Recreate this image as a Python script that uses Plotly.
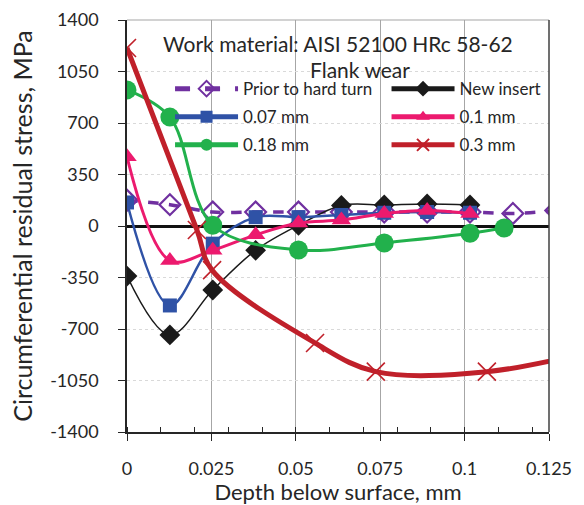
import plotly.graph_objects as go

# ---- data ----
prior_x = [0, 0.0127, 0.0254, 0.0381, 0.0508, 0.0635, 0.0762, 0.0889, 0.1016, 0.1143, 0.127]
prior_y = [175, 145, 95, 95, 95, 95, 95, 95, 95, 85, 105]

new_x = [0, 0.0127, 0.0254, 0.0381, 0.0508, 0.0635, 0.0762, 0.0889, 0.1016]
new_y = [-340, -740, -435, -165, 5, 140, 143, 150, 143]

w007_x = [0, 0.0127, 0.0254, 0.0381, 0.0508, 0.0635, 0.0762, 0.0889, 0.1016]
w007_y = [160, -540, -120, 60, 60, 75, 90, 95, 90]

w01_x = [0, 0.0127, 0.0254, 0.0381, 0.0508, 0.0635, 0.0762, 0.0889, 0.1016]
w01_y = [470, -235, -165, -60, 20, 40, 85, 105, 85]

w018_x = [0, 0.0127, 0.0254, 0.0508, 0.0762, 0.1016, 0.1117]
w018_y = [925, 740, 5, -163, -115, -50, -14]

w03_x = [0, 0.0207, 0.0252, 0.0557, 0.0737, 0.1066, 0.14]
w03_y = [1210, -27, -300, -795, -990, -990, -840]

x_ticks = [0, 0.025, 0.05, 0.075, 0.1, 0.125]
x_ticklabels = ["0", "0.025", "0.05", "0.075", "0.1", "0.125"]
y_ticks = [1400, 1050, 700, 350, 0, -350, -700, -1050, -1400]
y_ticklabels = ["1400", "1050", "700", "350", "0", "-350", "-700", "-1050", "-1400"]

FONT = "Lato, Open Sans, sans-serif"
TXT = "#262626"

fig = go.Figure()

fig.add_trace(go.Scatter(
    x=prior_x, y=prior_y, name="Prior to hard turn", mode="lines+markers",
    line=dict(color="#7030A0", width=3.5, dash="dash", shape="spline"),
    marker=dict(symbol="diamond-open", size=16, color="#7030A0", line=dict(width=2.2, color="#7030A0")),
    legend="legend", legendgroup="a"))
fig.add_trace(go.Scatter(
    x=new_x, y=new_y, name="New insert", mode="lines+markers",
    line=dict(color="#1a1a1a", width=1.5, shape="spline"),
    marker=dict(symbol="diamond", size=16, color="#1a1a1a"),
    legend="legend2", legendgroup="b"))
fig.add_trace(go.Scatter(
    x=w007_x, y=w007_y, name="0.07 mm", mode="lines+markers",
    line=dict(color="#2F52A6", width=2.5, shape="spline"),
    marker=dict(symbol="square", size=14, color="#2F52A6"),
    legend="legend", legendgroup="c"))
fig.add_trace(go.Scatter(
    x=w01_x, y=w01_y, name="0.1 mm", mode="lines+markers",
    line=dict(color="#EC1A6E", width=3, shape="spline"),
    marker=dict(symbol="triangle-up", size=17, color="#EC1A6E"),
    legend="legend2", legendgroup="d"))
fig.add_trace(go.Scatter(
    x=w018_x, y=w018_y, name="0.18 mm", mode="lines+markers",
    line=dict(color="#22B14C", width=3, shape="spline"),
    marker=dict(symbol="circle", size=19, color="#22B14C"),
    legend="legend", legendgroup="e"))
fig.add_trace(go.Scatter(
    x=w03_x, y=w03_y, name="0.3 mm", mode="lines+markers",
    line=dict(color="#C0202A", width=5, shape="spline"),
    marker=dict(symbol="x-thin-open", size=18, color="#C0202A", line=dict(width=1.6, color="#C0202A")),
    legend="legend2", legendgroup="f"))

legend_common = dict(
    font=dict(family=FONT, size=17, color=TXT),
    bgcolor="rgba(0,0,0,0)", borderwidth=0,
    xanchor="left", yanchor="top", orientation="v",
    tracegroupgap=3, itemwidth=63, itemsizing="constant",
)

fig.update_layout(
    width=584, height=505,
    margin=dict(l=127, r=35, t=20, b=73),
    paper_bgcolor="white", plot_bgcolor="white",
    font=dict(family=FONT, color=TXT),
    legend=dict(x=0.102, y=0.876, **legend_common),
    legend2=dict(x=0.615, y=0.876, **legend_common),
    xaxis=dict(
        range=[0, 0.125], tickvals=x_ticks, ticktext=x_ticklabels,
        showgrid=True, gridcolor="#A6A6A6", gridwidth=1.2,
        showline=True, linecolor="#262626", linewidth=1.5,
        ticks="outside", ticklen=7, tickcolor="#262626", tickwidth=1.2,
        minor=dict(ticks="inside", ticklen=5, nticks=5, tickcolor="#262626", showgrid=False),
        tickfont=dict(family=FONT, size=18, color=TXT),
        ticklabelstandoff=13,
        zeroline=False, automargin=False,
        title=dict(text="Depth below surface, mm", font=dict(family=FONT, size=22, color=TXT), standoff=2),
    ),
    yaxis=dict(
        range=[-1400, 1400], tickvals=y_ticks, ticktext=y_ticklabels,
        showgrid=True, gridcolor="#D9D9D9", gridwidth=1, griddash="dot",
        showline=True, linecolor="#262626", linewidth=1.5,
        ticks="outside", ticklen=7, tickcolor="#262626", tickwidth=1.2,
        tickfont=dict(family=FONT, size=18, color=TXT),
        ticklabelstandoff=16,
        zeroline=True, zerolinecolor="#111111", zerolinewidth=3,
        automargin=False,
        title=dict(text="Circumferential residual stress, MPa", font=dict(family=FONT, size=25, color=TXT), standoff=10),
    ),
    annotations=[
        dict(text="Work material: AISI 52100 HRc 58-62", x=0.5, y=0.943, xref="paper", yref="paper",
             xanchor="center", yanchor="middle",
             showarrow=False, font=dict(family=FONT, size=21, color=TXT)),
        dict(text="Flank wear", x=0.553, y=0.879, xref="paper", yref="paper",
             xanchor="center", yanchor="middle",
             showarrow=False, font=dict(family=FONT, size=21, color=TXT)),
    ],
    shapes=[
        dict(type="line", xref="x domain", yref="y domain", x0=0, x1=1, y0=1, y1=1,
             line=dict(color="#A6A6A6", width=1.2)),
        dict(type="line", xref="x domain", yref="y domain", x0=1, x1=1, y0=0, y1=1,
             line=dict(color="#404040", width=1.5)),
    ],
)

fig.write_html("out.html", config={"displayModeBar": False},
               post_script="document.body.style.margin='0';document.body.style.overflow='hidden';")
